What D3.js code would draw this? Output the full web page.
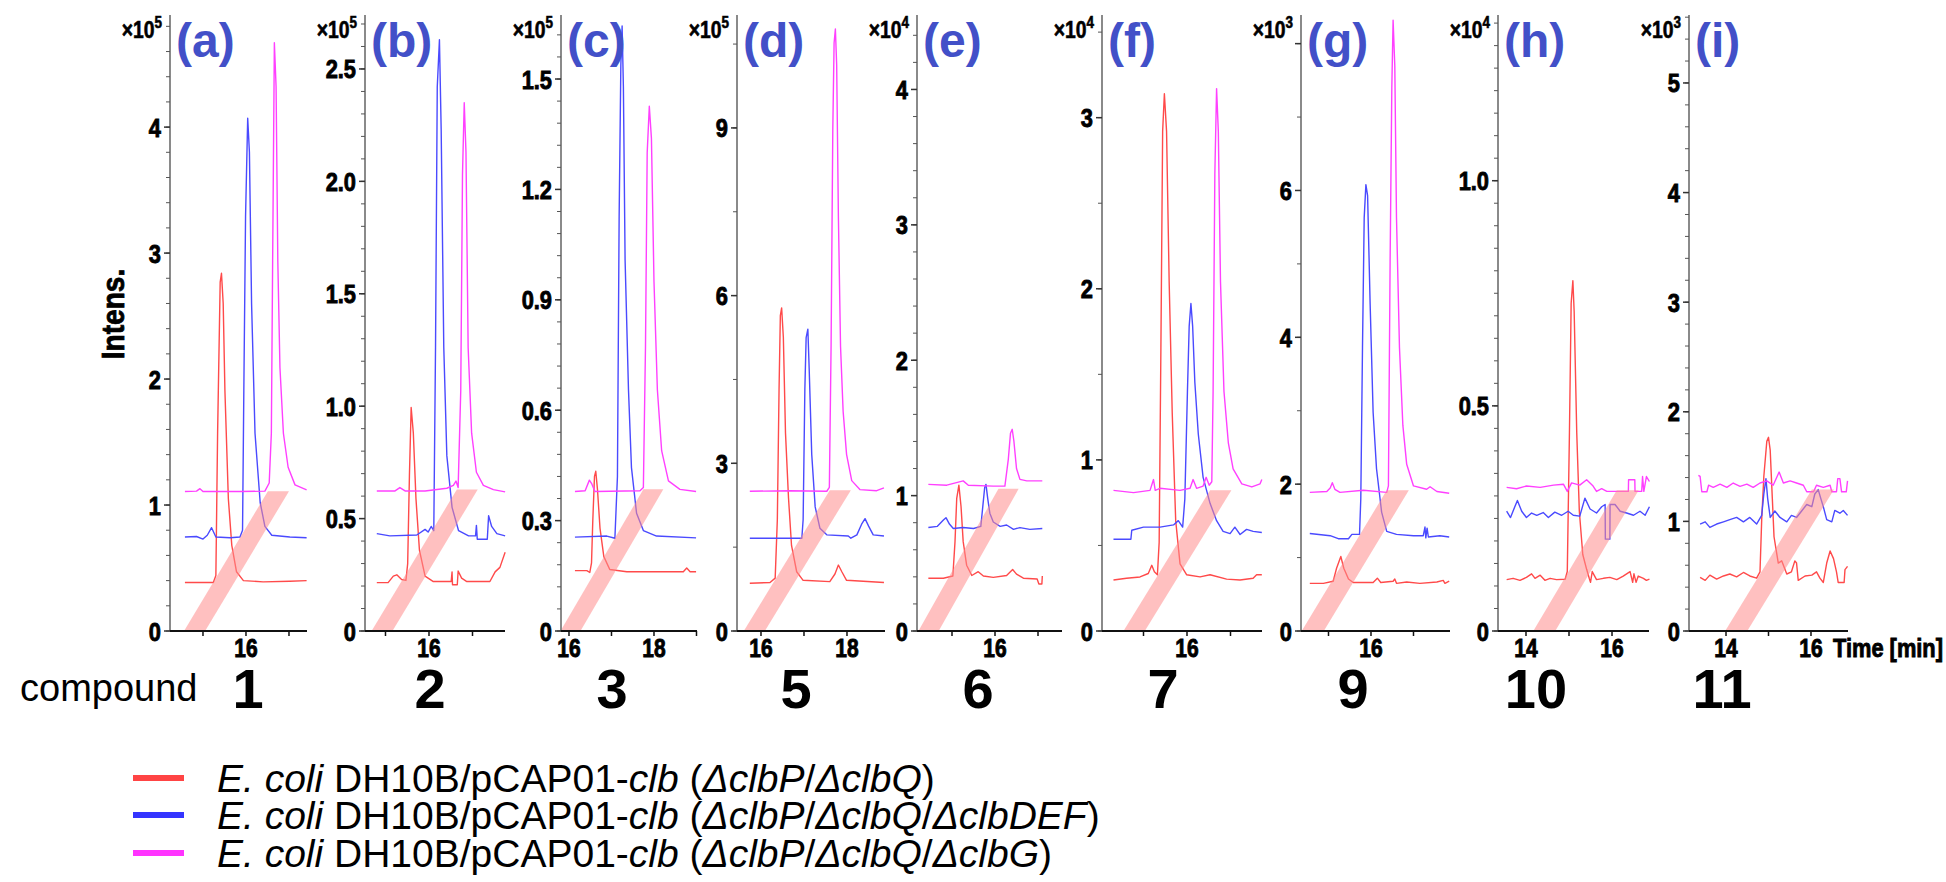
<!DOCTYPE html>
<html><head><meta charset="utf-8">
<script src="https://cdn.jsdelivr.net/npm/d3@7"></script>
<style>
html,body{margin:0;padding:0;background:#fff;}
svg{display:block;}
</style></head><body>
<svg id="chart" width="1946" height="882"></svg>
<script>
// ---------- panel descriptors ----------
const panelLetters = ["(a)","(b)","(c)","(d)","(e)","(f)","(g)","(h)","(i)"];
const compoundLabels = ["1","2","3","5","6","7","9","10","11"];
const intensityExponents = [5,5,5,5,4,4,3,4,3];
const intensityTop = [4.89,2.74,1.674,11.02,4.55,3.60,8.39,1.368,5.62];
const majorStep = [1,0.5,0.3,3,1,1,2,0.5,1];
const minorStep = [0.2,0.1,0.06,1.5,0.2,0.5,1,0.05,0.2];
const labelMax = [4,2.5,1.5,9,4,3,6,1.0,5];
const majorDecimals = [0,1,1,0,0,0,0,1,0];
const timeDomains = [[14.233,17.419],[14.529,17.747],[15.812,19.012],[15.442,18.884],[14.186,17.558],[14.046,17.724],[14.353,17.859],[13.349,16.860],[13.129,16.871]];
const timeTicks = [[15,16,17],[15,16,17],[16,17,18,19],[16,17,18],[15,16,17],[15,16,17],[15,16,17],[14,15,16],[14,15,16]];
const timeLabels = [[16],[16],[16,18],[16,18],[16],[16],[16],[14,16],[14,16]];

// diagonal offset band: start time at zero, start time at top, width (min), top intensity
const bandStart    = [14.56,14.68,15.80,15.60,14.22,14.54,14.37,14.17,13.98];
const bandTopStart = [16.51,16.64,17.75,17.60,16.08,16.53,16.37,16.11,16.02];
const bandWidth    = [0.49,0.48,0.47,0.49,0.47,0.49,0.52,0.51,0.52];
const bandTop      = [1.11,0.629,0.385,2.52,1.05,0.822,1.917,0.3125,1.29];

// ---------- traces [time (min), intensity] ----------
const redA = [[14.58,0.385],[15.24,0.385],[15.30,0.44],[15.34,1.57],[15.40,2.77],[15.43,2.84],[15.47,2.60],[15.51,1.91],[15.59,1.05],[15.67,0.68],[15.78,0.47],[15.94,0.40],[16.40,0.39],[17.02,0.395],[17.41,0.40]];
const blueA = [[14.58,0.746],[14.85,0.75],[15.0,0.73],[15.10,0.76],[15.20,0.82],[15.30,0.746],[15.63,0.74],[15.86,0.746],[15.92,0.80],[15.95,1.91],[15.99,3.29],[16.04,4.07],[16.08,3.80],[16.13,2.60],[16.21,1.57],[16.33,1.02],[16.44,0.83],[16.60,0.76],[17.02,0.746],[17.41,0.74]];
const magentaA = [[14.58,1.107],[14.85,1.11],[14.93,1.13],[15.0,1.107],[15.86,1.107],[16.44,1.11],[16.54,1.175],[16.59,1.57],[16.62,2.94],[16.66,4.67],[16.70,4.32],[16.74,2.94],[16.79,2.09],[16.87,1.57],[16.98,1.30],[17.14,1.16],[17.41,1.12]];

const redB = [[14.80,0.215],[15.06,0.215],[15.18,0.244],[15.26,0.25],[15.37,0.229],[15.47,0.225],[15.51,0.30],[15.55,0.69],[15.59,0.994],[15.64,0.88],[15.70,0.59],[15.78,0.36],[15.91,0.244],[16.10,0.22],[16.51,0.22],[16.53,0.263],[16.54,0.206],[16.65,0.206],[16.67,0.267],[16.75,0.235],[16.87,0.22],[17.40,0.22],[17.52,0.263],[17.63,0.283],[17.75,0.35]];
const blueB = [[14.80,0.433],[15.10,0.423],[15.72,0.427],[15.91,0.452],[15.98,0.44],[16.05,0.465],[16.11,0.446],[16.15,1.26],[16.19,2.42],[16.24,2.63],[16.28,2.23],[16.34,1.26],[16.41,0.78],[16.53,0.55],[16.68,0.446],[16.91,0.423],[17.07,0.423],[17.09,0.47],[17.11,0.408],[17.34,0.408],[17.37,0.513],[17.44,0.465],[17.56,0.433],[17.75,0.423]];
const magentaB = [[14.80,0.623],[15.22,0.623],[15.33,0.638],[15.45,0.623],[15.91,0.623],[16.41,0.635],[16.56,0.648],[16.62,0.667],[16.67,0.638],[16.73,1.07],[16.77,2.03],[16.81,2.35],[16.85,2.13],[16.90,1.26],[16.98,0.88],[17.09,0.706],[17.25,0.648],[17.48,0.629],[17.75,0.619]];

const redC = [[16.14,0.164],[16.42,0.164],[16.49,0.159],[16.53,0.185],[16.56,0.30],[16.60,0.42],[16.63,0.434],[16.67,0.385],[16.73,0.279],[16.82,0.202],[16.96,0.167],[17.36,0.161],[18.69,0.161],[18.77,0.171],[18.85,0.161],[18.99,0.161]];
const blueC = [[16.14,0.255],[16.89,0.258],[17.08,0.252],[17.14,0.42],[17.18,1.126],[17.22,1.538],[17.25,1.644],[17.28,1.479],[17.32,1.008],[17.40,0.655],[17.47,0.444],[17.59,0.32],[17.75,0.273],[18.06,0.258],[18.99,0.253]];
const magentaC = [[16.14,0.379],[16.38,0.381],[16.48,0.41],[16.54,0.399],[16.61,0.379],[17.67,0.381],[17.75,0.39],[17.80,0.773],[17.84,1.30],[17.89,1.426],[17.94,1.338],[18.0,0.949],[18.08,0.655],[18.18,0.49],[18.34,0.408],[18.61,0.385],[18.99,0.379]];

const redD = [[15.74,0.853],[16.21,0.868],[16.33,0.946],[16.38,1.99],[16.42,4.32],[16.45,5.64],[16.48,5.78],[16.52,5.25],[16.57,3.54],[16.64,2.38],[16.71,1.53],[16.83,1.06],[16.98,0.907],[17.60,0.884],[17.72,1.02],[17.80,1.18],[17.88,1.06],[17.99,0.907],[18.86,0.868]];
const blueD = [[15.74,1.66],[16.95,1.66],[16.98,1.99],[17.02,4.32],[17.05,5.25],[17.09,5.40],[17.12,4.71],[17.18,3.16],[17.26,2.22],[17.37,1.84],[17.53,1.72],[18.03,1.70],[18.09,1.66],[18.23,1.72],[18.34,1.91],[18.42,2.01],[18.50,1.88],[18.61,1.72],[18.86,1.70]];
const magentaD = [[15.74,2.50],[16.67,2.51],[17.53,2.50],[17.59,2.57],[17.63,5.09],[17.67,8.97],[17.70,10.52],[17.73,10.77],[17.76,10.13],[17.80,7.42],[17.85,5.09],[17.91,3.93],[17.99,3.16],[18.11,2.69],[18.30,2.53],[18.69,2.51],[18.86,2.56]];

const redE = [[14.45,0.39],[14.80,0.39],[15.02,0.406],[15.07,0.66],[15.11,0.98],[15.16,1.077],[15.21,0.92],[15.26,0.66],[15.34,0.486],[15.46,0.41],[15.61,0.438],[15.73,0.406],[15.96,0.396],[16.27,0.41],[16.41,0.454],[16.50,0.42],[16.66,0.39],[16.98,0.384],[17.02,0.347],[17.09,0.347],[17.10,0.406]];
const blueE = [[14.45,0.764],[14.66,0.773],[14.80,0.82],[14.86,0.837],[14.94,0.79],[15.03,0.757],[15.26,0.764],[15.50,0.757],[15.67,0.773],[15.71,0.90],[15.76,1.06],[15.79,1.083],[15.83,0.98],[15.88,0.87],[15.96,0.805],[16.12,0.773],[16.27,0.783],[16.43,0.751],[16.58,0.764],[16.81,0.751],[17.10,0.757]];
const magentaE = [[14.45,1.083],[14.88,1.077],[15.26,1.109],[15.38,1.077],[15.96,1.07],[16.23,1.07],[16.31,1.27],[16.36,1.46],[16.40,1.49],[16.44,1.40],[16.50,1.20],[16.58,1.12],[16.74,1.109],[17.10,1.109]];

const redF = [[14.31,0.298],[14.61,0.308],[14.92,0.316],[15.11,0.336],[15.19,0.384],[15.25,0.346],[15.32,0.329],[15.36,0.518],[15.40,1.656],[15.44,2.92],[15.48,3.14],[15.53,2.92],[15.59,2.04],[15.66,1.277],[15.74,0.645],[15.84,0.392],[15.99,0.329],[16.30,0.316],[16.53,0.329],[16.91,0.303],[17.22,0.298],[17.52,0.308],[17.60,0.329],[17.72,0.329]];
const blueF = [[14.31,0.536],[14.71,0.536],[14.73,0.589],[15.0,0.607],[15.38,0.607],[15.69,0.62],[15.80,0.645],[15.90,0.607],[15.95,0.771],[16.01,1.40],[16.05,1.78],[16.09,1.914],[16.13,1.78],[16.18,1.454],[16.26,1.15],[16.37,0.898],[16.53,0.746],[16.68,0.645],[16.83,0.582],[16.99,0.569],[17.10,0.607],[17.22,0.564],[17.37,0.594],[17.52,0.582],[17.72,0.576]];
const magentaF = [[14.31,0.822],[14.77,0.809],[15.15,0.822],[15.23,0.885],[15.27,0.822],[15.38,0.834],[15.84,0.822],[16.07,0.834],[16.14,0.885],[16.22,0.834],[16.37,0.847],[16.44,0.898],[16.51,0.852],[16.57,0.872],[16.60,1.40],[16.64,2.67],[16.68,3.17],[16.72,2.92],[16.77,2.04],[16.85,1.40],[16.95,1.10],[17.06,0.948],[17.26,0.86],[17.49,0.842],[17.68,0.86],[17.72,0.885]];

const redG = [[14.56,0.649],[14.88,0.649],[15.11,0.678],[15.19,0.855],[15.29,1.015],[15.36,0.855],[15.47,0.708],[15.58,0.661],[16.05,0.661],[16.15,0.72],[16.23,0.661],[16.52,0.678],[16.56,0.708],[16.60,0.649],[16.84,0.667],[17.15,0.649],[17.55,0.667],[17.70,0.69],[17.74,0.649],[17.84,0.678]];
const blueG = [[14.56,1.327],[15.04,1.298],[15.23,1.257],[15.47,1.257],[15.55,1.316],[15.73,1.316],[15.76,1.80],[15.80,3.86],[15.84,5.63],[15.88,6.08],[15.92,5.93],[15.98,4.45],[16.05,2.98],[16.13,2.21],[16.25,1.62],[16.37,1.357],[16.60,1.316],[17.0,1.298],[17.23,1.298],[17.27,1.416],[17.29,1.268],[17.32,1.40],[17.35,1.28],[17.62,1.298],[17.84,1.28]];
const magentaG = [[14.56,1.888],[14.96,1.90],[15.04,1.947],[15.09,2.02],[15.15,1.93],[15.27,1.888],[15.82,1.917],[16.37,1.888],[16.41,1.976],[16.45,5.04],[16.49,7.40],[16.52,8.32],[16.56,7.70],[16.60,5.63],[16.67,3.86],[16.75,2.80],[16.84,2.27],[17.0,1.976],[17.31,1.93],[17.39,1.965],[17.55,1.90],[17.84,1.876]];

const redH = [[13.55,0.114],[13.70,0.117],[13.86,0.1125],[14.01,0.119],[14.13,0.127],[14.21,0.117],[14.33,0.124],[14.44,0.1125],[14.56,0.117],[14.71,0.114],[14.91,0.115],[14.96,0.132],[15.01,0.44],[15.05,0.728],[15.09,0.778],[15.12,0.709],[15.18,0.44],[15.24,0.266],[15.32,0.17],[15.41,0.137],[15.47,0.117],[15.50,0.108],[15.54,0.132],[15.64,0.114],[15.80,0.117],[15.95,0.119],[16.11,0.114],[16.26,0.122],[16.42,0.132],[16.48,0.108],[16.51,0.127],[16.56,0.108],[16.61,0.122],[16.73,0.117],[16.80,0.1125],[16.87,0.115]];
const blueH = [[13.55,0.266],[13.64,0.252],[13.74,0.276],[13.80,0.29],[13.90,0.266],[14.01,0.252],[14.13,0.262],[14.25,0.257],[14.40,0.263],[14.52,0.252],[14.67,0.264],[14.83,0.257],[14.98,0.266],[15.10,0.257],[15.25,0.255],[15.37,0.295],[15.49,0.271],[15.64,0.262],[15.76,0.276],[15.84,0.281],[15.845,0.204],[15.95,0.204],[15.955,0.281],[16.07,0.281],[16.19,0.266],[16.34,0.262],[16.50,0.257],[16.65,0.266],[16.77,0.257],[16.87,0.276]];
const magentaH = [[13.55,0.319],[13.78,0.316],[14.01,0.322],[14.33,0.319],[14.64,0.324],[14.87,0.326],[14.96,0.31],[15.06,0.329],[15.25,0.324],[15.41,0.336],[15.56,0.322],[15.64,0.31],[15.76,0.316],[15.88,0.31],[16.38,0.31],[16.385,0.336],[16.53,0.336],[16.535,0.31],[16.69,0.31],[16.71,0.343],[16.74,0.31],[16.80,0.343],[16.87,0.332]];

const redI = [[13.39,0.49],[13.51,0.462],[13.62,0.51],[13.78,0.474],[13.94,0.502],[14.09,0.52],[14.25,0.494],[14.41,0.534],[14.56,0.502],[14.72,0.482],[14.80,0.54],[14.84,1.016],[14.89,1.41],[14.96,1.73],[15.0,1.767],[15.04,1.65],[15.09,1.21],[15.13,0.86],[15.18,0.74],[15.23,0.62],[15.31,0.64],[15.43,0.52],[15.54,0.54],[15.62,0.64],[15.66,0.62],[15.70,0.462],[15.86,0.502],[16.02,0.51],[16.13,0.54],[16.21,0.482],[16.29,0.443],[16.37,0.62],[16.45,0.73],[16.53,0.66],[16.60,0.54],[16.64,0.443],[16.78,0.443],[16.80,0.56],[16.86,0.59]];
const blueI = [[13.39,0.976],[13.51,0.996],[13.62,0.945],[13.78,0.976],[13.94,0.996],[14.09,1.016],[14.25,1.036],[14.41,0.996],[14.56,1.036],[14.72,0.976],[14.84,1.055],[14.89,1.25],[14.94,1.39],[14.98,1.21],[15.04,1.036],[15.15,1.095],[15.27,1.036],[15.43,0.996],[15.54,1.055],[15.66,1.036],[15.78,1.095],[15.90,1.154],[16.02,1.134],[16.09,1.25],[16.17,1.29],[16.23,1.21],[16.29,1.134],[16.37,1.016],[16.49,0.996],[16.56,1.10],[16.68,1.075],[16.76,1.10],[16.86,1.055]];
const magentaI = [[13.35,1.42],[13.39,1.41],[13.43,1.27],[13.55,1.27],[13.59,1.33],[13.70,1.31],[13.86,1.34],[14.02,1.31],[14.17,1.35],[14.33,1.32],[14.49,1.34],[14.64,1.31],[14.80,1.35],[14.96,1.37],[15.11,1.33],[15.25,1.45],[15.35,1.35],[15.51,1.37],[15.66,1.35],[15.82,1.33],[15.90,1.27],[16.06,1.27],[16.13,1.33],[16.29,1.31],[16.45,1.33],[16.49,1.27],[16.60,1.27],[16.63,1.39],[16.68,1.39],[16.72,1.27],[16.83,1.27],[16.86,1.37]];

const panelTraces = [
  [redA, blueA, magentaA], [redB, blueB, magentaB], [redC, blueC, magentaC],
  [redD, blueD, magentaD], [redE, blueE, magentaE], [redF, blueF, magentaF],
  [redG, blueG, magentaG], [redH, blueH, magentaH], [redI, blueI, magentaI]
];

// legend entries: strain label segments, italic flags
const seriesColors = ["#ff4a4a", "#4a4aff", "#ff40ff"];
const legendSwatch = ["#ff4444", "#3434ff", "#ff33ff"];
const legendLabels = [
  [["E. coli",1],[" DH10B/pCAP01-",0],["clb",1],[" (",0],["ΔclbP",1],["/",0],["ΔclbQ",1],[")",0]],
  [["E. coli",1],[" DH10B/pCAP01-",0],["clb",1],[" (",0],["ΔclbP",1],["/",0],["ΔclbQ",1],["/",0],["ΔclbDEF",1],[")",0]],
  [["E. coli",1],[" DH10B/pCAP01-",0],["clb",1],[" (",0],["ΔclbP",1],["/",0],["ΔclbQ",1],["/",0],["ΔclbG",1],[")",0]]
];

// ---------- layout ----------
const axisLeft  = [170,365,561,737,917,1102,1301,1498,1689];
const axisRight = [307,505,697,885,1062,1262,1450,1649,1848];
const yZero = 631, yTopPx = 15;
const compoundX = [248,430,612,796,978,1163,1353,1536,1722];

const sans = "'Liberation Sans',Arial,Helvetica,sans-serif";
const squeeze = 0.84;   // horizontal compression for the axis lettering

const svg = d3.select("#chart");
svg.append("rect").attr("width",1946).attr("height",882).attr("fill","#fff");

// heavy, horizontally condensed text placed at (x, y)
function axisText(parent, x, y, size, anchor, str) {
  return parent.append("text")
    .attr("transform", `translate(${x},${y}) scale(${squeeze},1)`)
    .attr("text-anchor", anchor)
    .attr("font-family", sans).attr("font-weight", "bold")
    .attr("font-size", size).attr("fill", "#000")
    .attr("stroke", "#000").attr("stroke-width", 0.9)
    .text(str);
}

panelLetters.forEach((letter, p) => {
  const x = d3.scaleLinear().domain(timeDomains[p]).range([axisLeft[p], axisRight[p]]);
  const y = d3.scaleLinear().domain([0, intensityTop[p]]).range([yZero, yTopPx]);
  const g = svg.append("g");

  // traces
  const line = d3.line().x(d => x(d[0])).y(d => y(d[1]));
  panelTraces[p].forEach((tr, s) => {
    g.append("path").datum(tr).attr("d", line)
      .attr("fill","none").attr("stroke", seriesColors[s])
      .attr("stroke-width",1.4).attr("stroke-linejoin","round");
  });

  // diagonal offset band
  const b0 = bandStart[p], b1 = bandTopStart[p], w = bandWidth[p], bt = bandTop[p];
  g.append("path")
    .attr("d", `M${x(b0)},${y(0)}L${x(b0+w)},${y(0)}L${x(b1+w)},${y(bt)}L${x(b1)},${y(bt)}Z`)
    .attr("fill","#ff8c8c").attr("fill-opacity",0.55);

  // y axis
  g.append("line").attr("x1",axisLeft[p]).attr("x2",axisLeft[p]).attr("y1",yZero).attr("y2",yTopPx)
    .attr("stroke","#8a8a8a").attr("stroke-width",2);
  const nMinor = Math.floor(intensityTop[p] / minorStep[p] + 1e-6);
  d3.range(0, nMinor + 1).forEach(k => {
    const v = k * minorStep[p];
    g.append("line").attr("x1",axisLeft[p]-4).attr("x2",axisLeft[p]).attr("y1",y(v)).attr("y2",y(v))
      .attr("stroke","#555").attr("stroke-width",1);
  });
  const nMajor = Math.floor(intensityTop[p] / majorStep[p] + 1e-6);
  d3.range(0, nMajor + 1).forEach(k => {
    const v = k * majorStep[p];
    g.append("line").attr("x1",axisLeft[p]-6).attr("x2",axisLeft[p]).attr("y1",y(v)).attr("y2",y(v))
      .attr("stroke","#333").attr("stroke-width",1.5);
    if (v <= labelMax[p] + 1e-6)
      axisText(g, axisLeft[p]-9, y(v) + 9.5, 26, "end", k === 0 ? "0" : v.toFixed(majorDecimals[p]));
  });

  // x axis
  g.append("line").attr("x1",axisLeft[p]).attr("x2",axisRight[p]).attr("y1",yZero).attr("y2",yZero)
    .attr("stroke","#111").attr("stroke-width",2.2);
  timeTicks[p].forEach(t => {
    g.append("line").attr("x1",x(t)).attr("x2",x(t)).attr("y1",yZero).attr("y2",yZero+5)
      .attr("stroke","#111").attr("stroke-width",1.5);
  });
  timeLabels[p].forEach(t => axisText(g, x(t), 657, 25, "middle", t));

  // exponent of the intensity scale
  const ex = axisText(g, axisLeft[p]-8, 38, 23, "end", null).attr("stroke-width",0.6);
  ex.append("tspan").text("×10");
  ex.append("tspan").attr("font-size",16).attr("dy",-10).text(intensityExponents[p]);

  // panel letter
  g.append("text").attr("x",axisLeft[p]+6).attr("y",57)
    .attr("font-family",sans).attr("font-weight","bold").attr("font-size",48)
    .attr("fill","#4250c8").text(letter);

  // compound number
  svg.append("text").attr("x",compoundX[p]).attr("y",708).attr("text-anchor","middle")
    .attr("font-family",sans).attr("font-weight","bold").attr("font-size",56).attr("fill","#000")
    .text(compoundLabels[p]);
});

// axis titles
svg.append("text").attr("transform","translate(124,314) rotate(-90) scale(0.88,1)").attr("text-anchor","middle")
  .attr("font-family",sans).attr("font-weight","bold").attr("font-size",32).attr("fill","#000")
  .attr("stroke","#000").attr("stroke-width",0.8)
  .text("Intens.");
axisText(svg, 1833, 657, 26, "start", "Time [min]");
svg.append("text").attr("x",20).attr("y",701)
  .attr("font-family",sans).attr("font-size",38).attr("fill","#000").text("compound");

// legend
const legendY = [778, 815, 853];
legendLabels.forEach((segs, i) => {
  svg.append("line").attr("x1",133).attr("x2",184).attr("y1",legendY[i]).attr("y2",legendY[i])
    .attr("stroke",legendSwatch[i]).attr("stroke-width",6);
  const t = svg.append("text").attr("x",217).attr("y",legendY[i]+14)
    .attr("font-family",sans).attr("font-size",39).attr("fill","#000");
  segs.forEach(([s, it]) => {
    t.append("tspan").attr("font-style", it ? "italic" : "normal").text(s);
  });
});
</script>
</body></html>
